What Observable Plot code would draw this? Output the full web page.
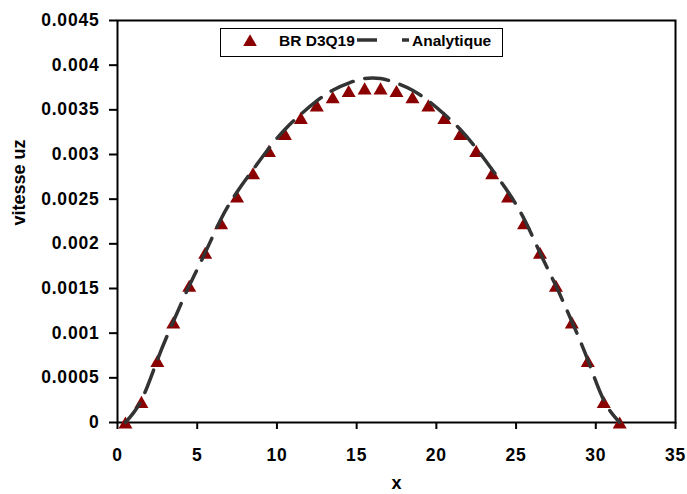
<!DOCTYPE html>
<html><head><meta charset="utf-8">
<script src="https://cdn.jsdelivr.net/npm/d3@7"></script>
<script src="https://cdn.jsdelivr.net/npm/@observablehq/plot@0.6"></script>
<style>
body{margin:0;background:#fff}
#chart{width:687px;height:494px}
#chart svg [aria-label$="tick label"] text{letter-spacing:0.8px}
</style>
</head><body><div id="chart"></div>
<script>
const xPos = [0.5,1.5,2.5,3.5,4.5,5.5,6.5,7.5,8.5,9.5,10.5,11.5,12.5,13.5,14.5,15.5,16.5,17.5,18.5,19.5,20.5,21.5,22.5,23.5,24.5,25.5,26.5,27.5,28.5,29.5,30.5,31.5];
const uzBR = [0,0.00023,0.00069,0.00112,0.00153,0.0019,0.00223,0.00253,0.00279,0.00304,0.00323,0.00341,0.00355,0.00364,0.00371,0.00374,0.00374,0.00371,0.00364,0.00355,0.00341,0.00323,0.00304,0.00279,0.00253,0.00223,0.0019,0.00153,0.00112,0.00069,0.00023,0];
const uzAnalytique = [0,0.00025,0.0007,0.00113,0.00153,0.0019,0.00228,0.00258,0.00283,0.00307,0.00328,0.00345,0.0036,0.00372,0.0038,0.00385,0.00385,0.0038,0.00372,0.0036,0.00345,0.00328,0.00307,0.00283,0.00258,0.00228,0.0019,0.00153,0.00113,0.0007,0.00025,0];
const xTicks = [0,5,10,15,20,25,30,35];
const yTicks = [0,0.0005,0.001,0.0015,0.002,0.0025,0.003,0.0035,0.004,0.0045];
const yTickLabels = ["0","0.0005","0.001","0.0015","0.002","0.0025","0.003","0.0035","0.004","0.0045"];
const seriesNames = ["BR D3Q19","Analytique"];
const xTitle = "x";
const yTitle = "vitesse uz";

const br = xPos.map((x,i)=>({x, uz: uzBR[i]}));
const an = xPos.map((x,i)=>({x, uz: uzAnalytique[i]}));
const font = "'Liberation Sans', Arial, sans-serif";

const plot = Plot.plot({
  width: 687, height: 494,
  marginLeft: 117, marginRight: 12, marginTop: 20, marginBottom: 72,
  style: {fontFamily: font, fontSize: "17.5px", fontWeight: "bold", color: "#000", background: "#fff", overflow: "visible"},
  x: {domain: [0,35]},
  y: {domain: [0,0.0045]},
  marks: [
    Plot.axisX({ticks: xTicks, tickSize: 7, tickPadding: 19, strokeWidth: 2, label: null, fontSize: 17.5, fontWeight: "bold", tickFormat: d => String(d)}),
    Plot.axisY({ticks: yTicks, tickSize: 8, tickPadding: 10, strokeWidth: 2, label: null, fontSize: 17.5, fontWeight: "bold", tickFormat: d => { const i = yTicks.indexOf(d); return i >= 0 ? yTickLabels[i] : String(d); }}),
    Plot.frame({stroke: "#000", strokeWidth: 2}),
    Plot.dot(br, {x: "x", y: "uz", symbol: "triangle", r: 5.2, fill: "#8b0000", stroke: "none", dy: 2, clip: false}),
    Plot.line(an, {x: "x", y: "uz", curve: "natural", stroke: "#333", strokeWidth: 3.5, strokeDasharray: "24,12"}),
    Plot.text([xTitle], {frameAnchor: "bottom", dy: 66, fontSize: 18, fontWeight: "bold", text: d => d}),
    Plot.text([yTitle], {frameAnchor: "left", dx: -98, dy: 4, rotate: -90, fontSize: 18, fontWeight: "bold", text: d => d})
  ]
});

const svg = d3.select(plot);
const lg = svg.append("g").attr("font-family", font).attr("font-weight", "bold");
lg.append("rect").attr("x", 220.5).attr("y", 28.5).attr("width", 282).attr("height", 28)
  .attr("fill", "#fff").attr("stroke", "#000").attr("stroke-width", 1);
lg.append("path").attr("d", d3.symbol(d3.symbolTriangle, 80)()).attr("transform", "translate(250,42)").attr("fill", "#8b0000");
lg.append("text").attr("x", 279).attr("y", 45.5).attr("font-size", 15.5).attr("text-anchor", "start").text(seriesNames[0]);
lg.append("line").attr("x1", 357).attr("x2", 377).attr("y1", 40).attr("y2", 40).attr("stroke", "#333").attr("stroke-width", 3.5);
lg.append("line").attr("x1", 402).attr("x2", 409).attr("y1", 40).attr("y2", 40).attr("stroke", "#333").attr("stroke-width", 3.5);
lg.append("text").attr("x", 412).attr("y", 45.5).attr("font-size", 15.5).attr("text-anchor", "start").text(seriesNames[1]);

document.getElementById("chart").appendChild(plot);
</script>
</body></html>
